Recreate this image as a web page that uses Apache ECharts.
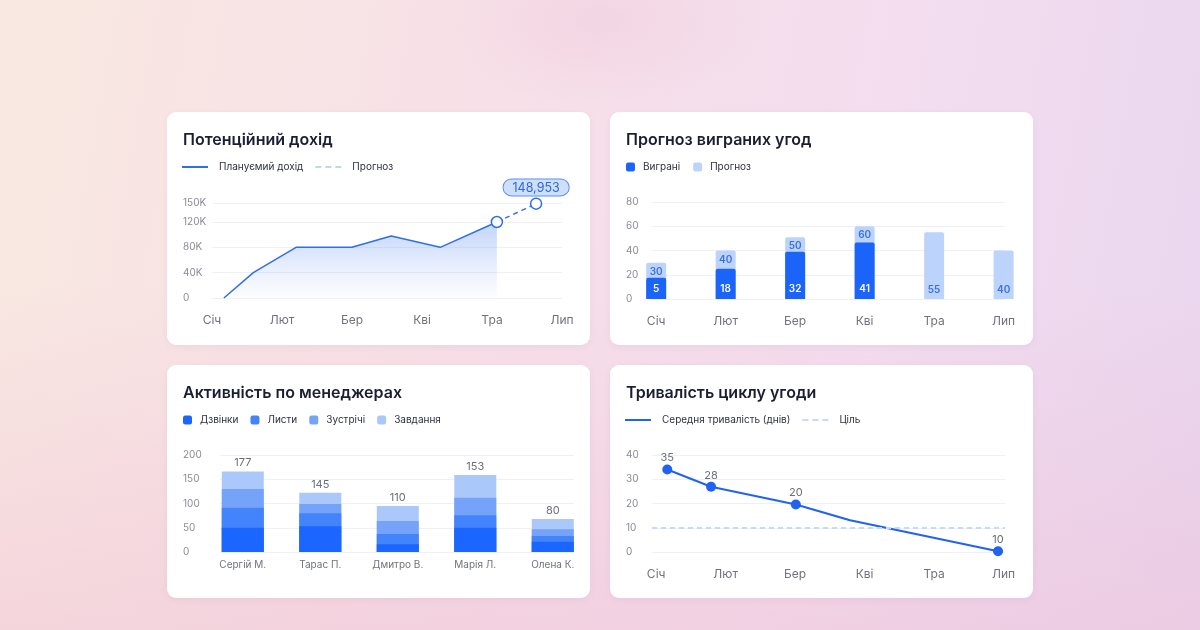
<!DOCTYPE html>
<html>
<head>
<meta charset="utf-8">
<script src="https://cdn.jsdelivr.net/npm/echarts@6/dist/echarts.min.js"></script>
<style>
html,body{margin:0;padding:0;width:1200px;height:630px;overflow:hidden;font-family:Inter,"Noto Sans",sans-serif;}
body{
  background:
    radial-gradient(ellipse 160px 90px at 600px 20px, rgba(240,205,222,0.55), rgba(240,205,222,0) 100%),
    linear-gradient(180deg, rgba(255,255,255,0) 45%, rgba(238,188,210,0.4) 100%),
    linear-gradient(100deg, #f9e8e1 0%, #f7e0e8 40%, #f3ddef 70%, #e9d6ef 100%);
}
.card{position:absolute;width:423px;height:233px;background:#fff;border-radius:9px;box-shadow:0 2px 6px rgba(180,140,170,0.12);}
</style>
</head>
<body>
<div class="card" id="c1" style="left:167px;top:112px"></div>
<div class="card" id="c2" style="left:610px;top:112px"></div>
<div class="card" id="c3" style="left:167px;top:365px"></div>
<div class="card" id="c4" style="left:610px;top:365px"></div>
<script>
// ---------- DATA ----------
const months = ['Січ', 'Лют', 'Бер', 'Кві', 'Тра', 'Лип'];

// Chart 1: potential revenue (x = month position)
const revenueX = [0.17, 0.59, 1.2, 2.0, 2.56, 3.26, 4.07];
const revenueY = [0, 40000, 80000, 80000, 98000, 80000, 120000];
const forecastX = [4.07, 4.63];
const forecastY = [120000, 148953];
const revenueTicks = [0, 40000, 80000, 120000, 150000];

// Chart 2: won deals forecast
const wonHeights = [17.5, 25, 39, 46.5];
const wonLabels = [5, 18, 32, 41];
const forecastDeals = [30, 40, 51, 60, 55, 40];
const forecastDealLabels = [30, 40, 50, 60, 55, 40];

// Chart 3: manager activity
const managers = ['Сергій М.', 'Тарас П.', 'Дмитро В.', 'Марія Л.', 'Олена К.'];
const calls = [50, 53, 16, 50, 21];
const letters = [41, 27, 21, 26, 12];
const meetings = [39, 19, 27, 36, 14];
const tasks = [36, 23, 31, 47, 21];
const activityTotals = [177, 145, 110, 153, 80];

// Chart 4: deal cycle duration
const cycleX = [0.16, 0.79, 2.01, 2.79, 4.92];
const cycleY = [34, 26.9, 19.6, 13.1, 0.3];
const cycleLabels = [35, 28, 20, null, 10];
const cycleTarget = 10;

// ---------- STYLE HELPERS ----------
const FONT = 'Inter, "Noto Sans", sans-serif';
const titleStyle = {fontSize: 16, fontWeight: 600, color: '#1b1e33', fontFamily: FONT};
const legendText = {fontSize: 10, color: '#2e3140', fontFamily: FONT, padding: [0, 0, 0, 6]};
const gridLine = {lineStyle: {color: '#eef0f4', width: 1}};
const DASH_ICON = 'path://M0,0h6v2h-6zM10,0h6v2h-6zM20,0h6v2h-6z';
const yLabel = (margin) => ({align: 'left', margin: margin, fontSize: 10, color: '#8a8d98', fontFamily: FONT});
const monthAxis = (min, max, margin) => ({
  type: 'value', min: min, max: max,
  axisLine: {show: false}, axisTick: {show: false}, splitLine: {show: false},
  axisLabel: {customValues: [0, 1, 2, 3, 4, 5], formatter: v => months[Math.round(v)] || '',
    margin: margin, fontSize: 12, color: '#70737d', fontFamily: FONT}
});
function title(text) { return {text: text, left: 16, top: 20, padding: 0, textStyle: titleStyle}; }

// ---------- CHART 1 ----------
(function () {
  const ch = echarts.init(document.getElementById('c1'));
  ch.setOption({
    animation: false,
    title: title('Потенційний дохід'),
    legend: {
      left: 15, top: 50, padding: 0, itemWidth: 26, itemHeight: 2, itemGap: 12, textStyle: legendText,
      data: [
        {name: 'Плануємий дохід', icon: 'rect', itemStyle: {color: '#2f6fe4', borderWidth: 0}},
        {name: 'Прогноз', icon: DASH_ICON, itemStyle: {color: '#c0d4f6', borderWidth: 0}}
      ]
    },
    grid: {left: 45, right: 28, top: 91, bottom: 47},
    xAxis: monthAxis(0, 5, 16),
    yAxis: {
      type: 'value', min: 0, max: 150000,
      axisLine: {show: false}, axisTick: {show: false, customValues: revenueTicks},
      splitLine: gridLine,
      axisLabel: Object.assign(yLabel(29), {customValues: revenueTicks,
        formatter: v => v === 0 ? '0' : (v / 1000) + 'K'})
    },
    series: [
      {
        name: 'Плануємий дохід', type: 'line', symbol: 'none',
        data: revenueX.map((x, i) => [x, revenueY[i]]),
        lineStyle: {color: '#2f6fe4', width: 1.5},
        itemStyle: {color: '#2f6fe4'},
        areaStyle: {color: new echarts.graphic.LinearGradient(0, 0, 0, 1, [
          {offset: 0, color: 'rgba(96,145,245,0.55)'},
          {offset: 1, color: 'rgba(120,160,245,0.02)'}
        ])}
      },
      {
        name: 'Прогноз', type: 'line', symbol: 'none',
        data: forecastX.map((x, i) => ({value: [x, forecastY[i]], symbol: 'circle',
          label: i === forecastX.length - 1 ? {
            show: true, position: 'top', distance: 2,
            formatter: () => forecastY[i].toLocaleString('en-US'),
            backgroundColor: '#cddffb', borderColor: '#5a8ef0', borderWidth: 1, borderRadius: 8,
            padding: [2, 9, 1, 9], color: '#2d68de', fontSize: 12.5, fontFamily: FONT
          } : {show: false}})),
        symbolSize: 11,
        itemStyle: {color: '#ffffff', borderColor: '#2f6fe4', borderWidth: 1.5},
        lineStyle: {color: '#3b72dc', width: 1.5, type: [5, 4]},
        z: 3
      }
    ]
  });
})();

// ---------- CHART 2 ----------
(function () {
  const ch = echarts.init(document.getElementById('c2'));
  ch.setOption({
    animation: false,
    title: title('Прогноз виграних угод'),
    legend: {
      left: 16, top: 50, padding: 0, itemWidth: 9, itemHeight: 9, itemGap: 13, icon: 'roundRect',
      textStyle: Object.assign({}, legendText, {padding: [0, 0, 0, 3]}),
      data: ['Виграні', 'Прогноз']
    },
    grid: {left: 42, right: 28, top: 90, bottom: 46},
    xAxis: monthAxis(-0.06, 5.02, 16),
    yAxis: {
      type: 'value', min: 0, max: 80, interval: 20,
      axisLine: {show: false}, axisTick: {show: false}, splitLine: gridLine,
      axisLabel: yLabel(26)
    },
    series: [
      {
        name: 'Прогноз', type: 'bar', barWidth: 20, barGap: '-100%', clip: false,
        itemStyle: {color: '#bcd4fb', borderRadius: [2, 2, 0, 0]},
        data: forecastDeals.map((v, i) => ({
          value: [i, v],
          label: {
            show: true, position: i < wonHeights.length ? 'insideTop' : 'insideBottom', distance: 4,
            formatter: () => String(forecastDealLabels[i]),
            color: '#3a70e0', fontSize: 10, fontWeight: 600, fontFamily: FONT
          }
        }))
      },
      {
        name: 'Виграні', type: 'bar', barWidth: 20, barGap: '-100%', clip: false,
        itemStyle: {color: '#1a64fa', borderRadius: [2, 2, 0, 0]},
        data: wonHeights.map((v, i) => ({
          value: [i, v],
          label: {show: true, position: 'insideBottom', distance: 5,
            formatter: () => String(wonLabels[i]),
            color: '#ffffff', fontSize: 10, fontWeight: 600, fontFamily: FONT}
        }))
      }
    ]
  });
})();

// ---------- CHART 3 ----------
(function () {
  const ch = echarts.init(document.getElementById('c3'));
  // cumulative tops for the stacked look (segments drawn as overlapping bars)
  const layers = [calls, letters, meetings, tasks];
  const cum = layers.map((_, k) => managers.map((__, i) =>
    layers.slice(0, k + 1).reduce((s, arr) => s + arr[i], 0)));
  const names = ['Дзвінки', 'Листи', 'Зустрічі', 'Завдання'];
  const colors = ['#1a66ff', '#4383fb', '#75a3fa', '#abc8fb'];
  const series = [];
  for (let k = layers.length - 1; k >= 0; k--) {
    series.push({
      name: names[k], type: 'bar', barWidth: 42, barGap: '-100%', clip: false,
      itemStyle: {color: colors[k]},
      data: cum[k].map((v, i) => [i, v]),
      label: k === layers.length - 1 ? {show: true, position: 'top', distance: 3,
        formatter: p => String(activityTotals[p.dataIndex]),
        color: '#6b6e78', fontSize: 11, fontFamily: FONT} : {show: false}
    });
  }
  ch.setOption({
    animation: false,
    title: title('Активність по менеджерах'),
    legend: {
      left: 16, top: 50, padding: 0, itemWidth: 9, itemHeight: 9, itemGap: 12, icon: 'roundRect',
      textStyle: Object.assign({}, legendText, {padding: [0, 0, 0, 3]}),
      data: names
    },
    grid: {left: 53, right: 16, top: 90, bottom: 46},
    xAxis: {
      type: 'value', min: -0.294, max: 4.274,
      axisLine: {show: false}, axisTick: {show: false}, splitLine: {show: false},
      axisLabel: {customValues: [0, 1, 2, 3, 4], formatter: v => managers[Math.round(v)] || '',
        margin: 8, fontSize: 10, color: '#70737d', fontFamily: FONT}
    },
    yAxis: {
      type: 'value', min: 0, max: 200, interval: 50,
      axisLine: {show: false}, axisTick: {show: false}, splitLine: gridLine,
      axisLabel: yLabel(37)
    },
    series: series
  });
})();

// ---------- CHART 4 ----------
(function () {
  const ch = echarts.init(document.getElementById('c4'));
  ch.setOption({
    animation: false,
    title: title('Тривалість циклу угоди'),
    legend: {
      left: 15, top: 50, padding: 0, itemWidth: 26, itemHeight: 2, itemGap: 12, textStyle: legendText,
      data: [
        {name: 'Середня тривалість (днів)', icon: 'rect', itemStyle: {color: '#1f63f0', borderWidth: 0}},
        {name: 'Ціль', icon: DASH_ICON, itemStyle: {color: '#c6d9f8', borderWidth: 0}}
      ]
    },
    grid: {left: 42, right: 28, top: 90, bottom: 46},
    xAxis: monthAxis(-0.06, 5.02, 16),
    yAxis: {
      type: 'value', min: 0, max: 40, interval: 10,
      axisLine: {show: false}, axisTick: {show: false}, splitLine: gridLine,
      axisLabel: yLabel(26)
    },
    series: [
      {
        name: 'Середня тривалість (днів)', type: 'line', symbol: 'none', symbolSize: 10,
        lineStyle: {color: '#1f63f0', width: 2},
        itemStyle: {color: '#1f63f0'},
        data: cycleX.map((x, i) => ({
          value: [x, cycleY[i]],
          symbol: cycleLabels[i] === null ? 'none' : 'circle',
          label: cycleLabels[i] === null ? {show: false} : {show: true, position: 'top', distance: 1,
            formatter: () => String(cycleLabels[i]), color: '#6b6e78', fontSize: 11, fontFamily: FONT}
        })),
        z: 3
      },
      {
        name: 'Ціль', type: 'line', data: [], symbol: 'none',
        lineStyle: {color: '#c6d9f8', width: 2, type: [5, 4]},
        itemStyle: {color: '#c6d9f8'},
        markLine: {
          silent: true, symbol: ['none', 'none'], label: {show: false},
          lineStyle: {color: '#c6d9f8', width: 2, type: [5, 4]},
          data: [{yAxis: cycleTarget}]
        }
      }
    ]
  });
})();
</script>
</body>
</html>
